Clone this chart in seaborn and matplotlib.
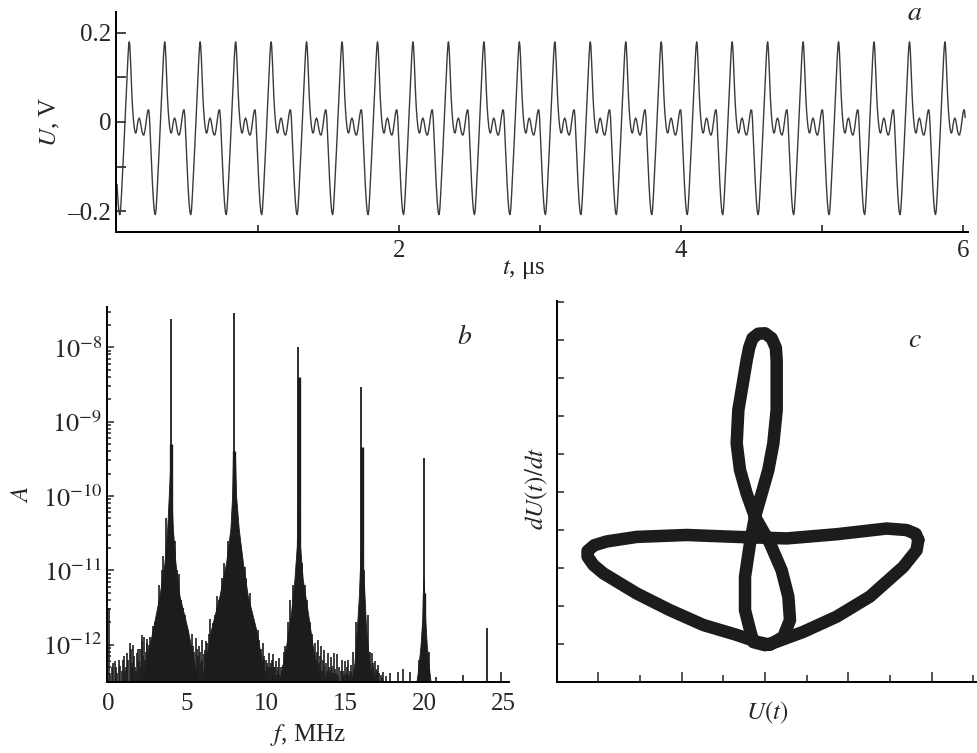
import numpy as np
import pandas as pd
import matplotlib
matplotlib.use("Agg")
import matplotlib.pyplot as plt
from matplotlib.ticker import FixedLocator, FixedFormatter, NullFormatter
import seaborn as sns

# (a) one period of U(t), phase in fractions of a period
period_phase = [0.000, 0.015, 0.035, 0.055, 0.075, 0.095, 0.115, 0.140, 0.165, 0.185,
                0.205, 0.230, 0.255, 0.280, 0.305, 0.330, 0.360, 0.390, 0.415, 0.445,
                0.475, 0.505, 0.530, 0.550, 0.570, 0.595, 0.625, 0.655, 0.685, 0.710,
                0.735, 0.755, 0.780, 0.810, 0.845, 0.880, 0.910, 0.940, 0.965, 0.985]
period_u = [0.180, 0.172, 0.140, 0.098, 0.060, 0.030, 0.008, -0.012, -0.023, -0.025,
            -0.020, -0.006, 0.005, 0.009, 0.004, -0.008, -0.022, -0.029, -0.029, -0.018,
            0.000, 0.018, 0.027, 0.027, 0.010, -0.035, -0.090, -0.140, -0.180, -0.202,
            -0.208, -0.198, -0.165, -0.118, -0.060, 0.000, 0.055, 0.105, 0.148, 0.173]
first_peak_t = 0.087   # us
period_t = 0.2515      # us
t_end = 6.02

# (b) spectrum: harmonic lines, skirts (f in MHz, log10 A) and noise floor
peak_f = [3.97, 8.0, 12.05, 16.03, 20.0, 24.0]
peak_top = [2.4e-8, 2.9e-8, 1.0e-8, 2.9e-9, 3.2e-10, 1.7e-12]
shoulder_f = [3.97, 8.0, 12.08, 16.05, 20.02]
shoulder_top = [-9.3, -9.4, -8.4, -9.34, -11.3]

skirt4_f = [2.2, 2.87, 3.29, 3.61, 3.78, 3.88, 3.97, 4.05, 4.14, 4.30, 4.56, 5.08, 5.7]
skirt4_a = [-12.5, -11.8, -11.35, -10.9, -10.45, -10.0, -9.6, -10.0, -10.45, -10.9, -11.35, -11.8, -12.5]
skirt8_f = [6.0, 6.56, 7.09, 7.51, 7.78, 7.89, 7.94, 8.07, 8.14, 8.31, 8.57, 8.88, 9.41, 10.0]
skirt8_a = [-12.5, -11.8, -11.35, -10.9, -10.45, -10.0, -9.45, -9.45, -10.0, -10.45, -10.9, -11.35, -11.8, -12.5]
skirt12_f = [10.9, 11.31, 11.62, 11.83, 11.98, 12.02, 12.05, 12.13, 12.19, 12.36, 12.68, 12.99, 13.4]
skirt12_a = [-12.5, -12.02, -11.57, -11.13, -10.68, -10.23, -9.9, -10.23, -10.68, -11.13, -11.57, -12.02, -12.5]
skirt16_f = [15.45, 15.63, 15.78, 15.91, 15.99, 16.05, 16.16, 16.27, 16.37, 16.58, 16.8]
skirt16_a = [-12.5, -12.25, -11.8, -11.35, -10.9, -10.5, -10.9, -11.35, -11.8, -12.25, -12.5]
skirt20_f = [19.55, 19.64, 19.81, 19.92, 19.96, 20.0, 20.06, 20.11, 20.21, 20.38, 20.45]
skirt20_a = [-12.5, -12.38, -12.02, -11.66, -11.35, -11.1, -11.35, -11.66, -12.02, -12.38, -12.5]

# spikes sticking out of the skirts
edge_f = [3.15, 3.25, 3.40, 3.50, 3.70, 4.25, 4.40, 4.50, 4.65, 4.75, 4.85, 5.30,
          6.90, 7.00, 7.20, 7.35, 7.60, 8.45, 8.65, 8.75, 9.00, 9.10,
          11.40, 11.50, 11.70, 12.30, 12.50, 12.60, 12.80,
          15.50, 15.70, 16.20, 16.45, 16.60, 19.70, 20.30]
edge_a = [-11.55, -11.20, -11.00, -10.80, -10.30, -10.60, -11.00, -11.05, -11.40, -11.50, -11.60, -11.85,
          -11.35, -11.40, -11.10, -10.90, -10.60, -10.70, -10.95, -11.10, -11.30, -11.60,
          -11.70, -11.40, -11.20, -10.90, -11.20, -11.40, -11.70,
          -12.10, -11.70, -11.00, -11.60, -12.10, -12.20, -12.10]

# taller noise spikes on the floor
noise_f = [0.05, 0.25, 0.44, 0.60, 0.78, 0.93, 1.05, 1.20, 1.39, 1.50, 1.60, 1.72, 1.81,
           1.98, 2.05, 2.13, 2.22, 2.30, 2.40, 2.49, 2.58, 2.66, 2.75, 2.83, 2.95, 3.05,
           4.90, 5.00, 5.15, 5.25, 5.36, 5.47, 5.57, 5.68, 5.78, 5.86, 5.93, 6.05, 6.14,
           6.22, 6.29, 6.38, 6.45, 6.56, 6.67, 6.80, 9.20, 9.35, 9.48, 9.58, 9.70, 9.79,
           9.90, 10.00, 10.10, 10.20, 10.30, 10.42, 10.52, 10.63, 10.74, 10.84, 10.95,
           11.05, 11.12, 11.20, 12.90, 13.00, 13.10, 13.20, 13.30, 13.40, 13.50, 13.60,
           13.70, 13.80, 13.90, 14.00, 14.10, 14.20, 14.30, 14.40, 14.50, 14.65, 14.80,
           14.90, 15.00, 15.10, 15.20, 15.30, 15.40, 16.70, 16.80, 16.90, 17.00, 17.10,
           17.25, 17.40, 17.60, 17.85, 18.37, 18.70, 19.10, 20.76, 22.50, 24.90]
noise_a = [-11.50, -12.30, -12.22, -12.38, -12.28, -12.20, -12.35, -12.11, -11.98, -12.25,
           -12.00, -12.30, -12.11, -12.22, -12.05, -11.87, -12.15, -11.89, -12.10, -11.98,
           -12.05, -11.89, -11.95, -11.75, -11.80, -11.85, -11.85, -11.95, -11.90, -12.10,
           -12.02, -12.20, -11.91, -12.15, -12.02, -12.25, -11.93, -12.12, -12.07, -11.95,
           -11.98, -11.85, -11.66, -11.80, -11.71, -11.60, -11.75, -11.85, -11.80, -11.93,
           -12.05, -11.98, -12.15, -12.20, -12.30, -12.11, -12.25, -12.13, -12.30, -12.22,
           -12.35, -12.18, -12.30, -12.27, -12.10, -12.02, -11.85, -12.05, -11.98, -12.10,
           -11.93, -12.15, -12.02, -12.20, -12.07, -12.25, -12.11, -12.30, -12.16, -12.28,
           -12.11, -12.32, -12.13, -12.30, -12.20, -12.35, -12.22, -12.30, -12.20, -12.35,
           -12.27, -12.11, -12.25, -12.22, -12.35, -12.27, -12.40, -12.36, -12.42, -12.38,
           -12.36, -12.33, -12.37, -12.43, -12.40, -12.36]

# lower grass between the taller spikes
grass_f = [0.15, 0.35, 0.52, 0.70, 0.86, 1.00, 1.12, 1.30, 1.45, 1.55, 1.66, 1.77, 1.90,
           2.10, 2.18, 2.35, 2.45, 2.53, 2.62, 2.70, 2.90, 3.00,
           5.10, 5.20, 5.42, 5.52, 5.62, 5.73, 5.82, 5.98, 6.10, 6.18, 6.34, 6.50, 6.62, 6.75, 6.85,
           9.25, 9.42, 9.53, 9.65, 9.75, 9.85, 9.95, 10.05, 10.15, 10.25, 10.36, 10.47, 10.57,
           10.68, 10.79, 10.90, 11.00, 11.16,
           12.95, 13.05, 13.15, 13.25, 13.35, 13.45, 13.55, 13.65, 13.75, 13.85, 13.95, 14.05,
           14.15, 14.25, 14.35, 14.45, 14.58, 14.72, 14.85, 14.95, 15.05, 15.15, 15.25, 15.35,
           16.75, 16.85, 16.95, 17.05, 17.18, 17.32]
grass_a = [-12.40, -12.25, -12.30, -12.20, -12.35, -12.15, -12.30, -12.20, -12.05, -12.30, -12.15, -12.35, -12.05,
           -12.30, -11.95, -12.20, -11.92, -12.25, -12.00, -12.15, -11.90, -11.70,
           -12.20, -12.00, -12.10, -12.35, -12.05, -12.30, -12.10, -12.20, -12.35, -12.10, -12.20, -11.90, -12.00, -11.80, -11.90,
           -12.00, -12.10, -12.20, -12.10, -12.30, -12.20, -12.35, -12.25, -12.40, -12.30, -12.20, -12.40, -12.30,
           -12.40, -12.30, -12.40, -12.35, -12.25,
           -12.20, -12.30, -12.20, -12.35, -12.25, -12.30, -12.35, -12.30, -12.40, -12.35, -12.40, -12.35,
           -12.40, -12.38, -12.42, -12.38, -12.40, -12.35, -12.42, -12.40, -12.38, -12.42, -12.40, -12.36,
           -12.30, -12.38, -12.33, -12.42, -12.38, -12.44]

# (c) phase portrait: U in V, dU/dt in tick units
loop_u = [0.184, 0.182, 0.166, 0.126, 0.086, 0.046, 0.014, 0.000, -0.014, -0.018, -0.024,
          -0.024, -0.018, -0.012, -0.004, 0.004, 0.010, 0.014, 0.014, 0.013, 0.008, 0.000,
          -0.008, -0.015, -0.019, -0.022, -0.032, -0.034, -0.030, -0.022, -0.012, 0.006, 0.020,
          0.028, 0.030, 0.022, 0.006, -0.010, -0.034, -0.074, -0.114, -0.154, -0.194, -0.206,
          -0.213, -0.213, -0.205, -0.190, -0.154, -0.094, -0.034, 0.026, 0.086, 0.146, 0.170,
          0.181, 0.184]
loop_y = [3.74, 3.47, 3.03, 2.25, 1.72, 1.32, 1.06, 0.97, 1.05, 1.37, 1.89,
          2.77, 3.65, 4.35, 4.96, 5.58, 6.28, 7.16, 8.47, 8.80, 9.05, 9.18,
          9.17, 9.05, 8.80, 8.47, 7.16, 6.28, 5.58, 4.96, 4.35, 3.65, 2.94,
          2.25, 1.63, 1.19, 0.98, 1.06, 1.24, 1.50, 1.89, 2.33, 2.86, 3.08,
          3.30, 3.45, 3.60, 3.70, 3.82, 3.87, 3.82, 3.78, 3.89, 4.04, 4.00,
          3.90, 3.74]

sns.set_theme(style="ticks")
plt.rcParams["font.family"] = ["Liberation Serif", "DejaVu Serif"]
plt.rcParams["mathtext.fontset"] = "stix"
plt.rcParams["axes.linewidth"] = 1.4
plt.rcParams["axes.edgecolor"] = "black"

W, H = 977, 753
fig = plt.figure(figsize=(W / 100, H / 100), dpi=100)


def rect(x0, y0, x1, y1):
    return [x0 / W, 1 - y1 / H, (x1 - x0) / W, (y1 - y0) / H]


ink = "#1c1c1c"
fs = 18

# ---------- (a) ----------
ax_a = fig.add_axes(rect(116, 12, 968, 232))
ph = np.array(period_phase)
t_all = np.concatenate([first_peak_t + (k + ph) * period_t for k in range(-1, 24)])
u_all = np.tile(np.array(period_u), 25)
keep = (t_all >= 0) & (t_all <= t_end)
wave = pd.DataFrame({"t": t_all[keep], "U": u_all[keep]})
sns.lineplot(data=wave, x="t", y="U", ax=ax_a, color="#3a3a3a", lw=1.0,
             estimator=None, sort=False)
ax_a.set_xlim(-0.007, 6.035)
ax_a.set_ylim(-0.247, 0.247)
sns.despine(ax=ax_a)
ax_a.xaxis.set_major_locator(FixedLocator([2, 4, 6]))
ax_a.xaxis.set_minor_locator(FixedLocator([1, 3, 5]))
ax_a.yaxis.set_major_locator(FixedLocator([-0.2, 0, 0.2]))
ax_a.yaxis.set_major_formatter(FixedFormatter(["\u20130.2", "0", "0.2"]))
ax_a.yaxis.set_minor_locator(FixedLocator([-0.1, 0.1]))
ax_a.tick_params(which="both", direction="in", labelsize=fs, width=1.2)
ax_a.tick_params(axis="y", which="both", length=7)
ax_a.tick_params(axis="x", which="both", length=5, pad=6)
ax_a.set_xlabel("$t$, \u03bcs", fontsize=fs)
ax_a.set_ylabel("$U$, V", fontsize=fs)
ax_a.xaxis.set_label_coords(0.479, -0.118)
ax_a.yaxis.set_label_coords(-0.063, 0.5)

# ---------- (b) ----------
ax_b = fig.add_axes(rect(107, 307, 509, 682))
ax_b.set_yscale("log")
floor = 10 ** -12.5
for sf, sa in [(skirt4_f, skirt4_a), (skirt8_f, skirt8_a), (skirt12_f, skirt12_a),
               (skirt16_f, skirt16_a), (skirt20_f, skirt20_a)]:
    ax_b.fill(sf, 10 ** np.array(sa), color=ink, lw=0.6)
ax_b.vlines(grass_f, floor, 10 ** np.array(grass_a), color=ink, lw=1.2)
ax_b.vlines(noise_f, floor, 10 ** np.array(noise_a), color=ink, lw=1.2)
ax_b.vlines(edge_f, floor, 10 ** np.array(edge_a), color=ink, lw=1.2)
ax_b.vlines(shoulder_f, floor, 10 ** np.array(shoulder_top), color=ink, lw=2.4)
ax_b.vlines(peak_f, floor, peak_top, color=ink, lw=1.3)
ax_b.set_xlim(-0.06, 25.38)
ax_b.set_ylim(floor, 10 ** -7.46)
sns.despine(ax=ax_b)
ax_b.xaxis.set_major_locator(FixedLocator([0, 5, 10, 15, 20, 25]))
decades = [1e-12, 1e-11, 1e-10, 1e-9, 1e-8]
ax_b.yaxis.set_major_locator(FixedLocator(decades))
ax_b.yaxis.set_major_formatter(FixedFormatter([r"$10^{-12}$", r"$10^{-11}$", r"$10^{-10}$",
                                               r"$10^{-9}$", r"$10^{-8}$"]))
minor = [m * d for d in [1e-13, 1e-12, 1e-11, 1e-10, 1e-9, 1e-8] for m in range(2, 10)]
ax_b.yaxis.set_minor_locator(FixedLocator([v for v in minor if floor < v < 10 ** -7.46]))
ax_b.yaxis.set_minor_formatter(NullFormatter())
ax_b.tick_params(which="both", direction="in", labelsize=fs, width=1.1)
ax_b.tick_params(axis="y", which="major", length=5, labelsize=fs + 1)
ax_b.tick_params(axis="y", which="minor", length=3)
ax_b.tick_params(axis="x", length=0, pad=8)
ax_b.set_xlabel("$f$, MHz", fontsize=fs)
ax_b.set_ylabel("$A$", fontsize=fs)
ax_b.xaxis.set_label_coords(0.5, -0.107)
ax_b.yaxis.set_label_coords(-0.184, 0.5)

# ---------- (c) ----------
ax_c = fig.add_axes(rect(557, 301, 977, 682))
loop = pd.DataFrame({"U": loop_u, "dU": loop_y})
sns.lineplot(data=loop, x="U", y="dU", ax=ax_c, color=ink, lw=9,
             estimator=None, sort=False, solid_joinstyle="round", solid_capstyle="round")
ax_c.set_xlim(-0.2497, 0.2545)
ax_c.set_ylim(0, 10.03)
sns.despine(ax=ax_c)
ax_c.xaxis.set_major_locator(FixedLocator([-0.2, -0.1, 0, 0.1, 0.2]))
ax_c.xaxis.set_minor_locator(FixedLocator([-0.15, -0.05, 0.05, 0.15, 0.25]))
ax_c.yaxis.set_major_locator(FixedLocator(list(range(1, 11))))
ax_c.tick_params(which="both", direction="in", labelbottom=False, labelleft=False, width=1.1)
ax_c.tick_params(axis="x", which="major", length=7)
ax_c.tick_params(axis="x", which="minor", length=5)
ax_c.tick_params(axis="y", length=5)
ax_c.set_xlabel("$U(t)$", fontsize=fs)
ax_c.set_ylabel("$dU(t)/dt$", fontsize=fs)
ax_c.xaxis.set_label_coords(0.5, -0.047)
ax_c.yaxis.set_label_coords(-0.017, 0.507)

# panel letters
fig.text(915 / W, 1 - 13 / H, "$a$", fontsize=fs + 2, ha="center", va="center")
fig.text(465 / W, 1 - 337 / H, "$b$", fontsize=fs + 2, ha="center", va="center")
fig.text(915 / W, 1 - 340 / H, "$c$", fontsize=fs + 2, ha="center", va="center")

fig.savefig("out.png", dpi=100)
